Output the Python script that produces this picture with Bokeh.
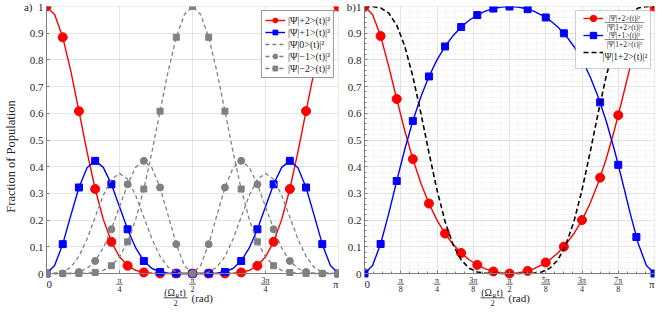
import numpy as np
from bokeh.plotting import figure
from bokeh.layouts import row
from bokeh.models import FixedTicker, Label, Legend, LegendItem, Range1d, BoxAnnotation
from bokeh.embed import file_html
from bokeh.resources import INLINE

# ---------------- data ----------------
X_DEG = [0, 5, 10, 15, 20, 25, 30, 35, 40, 45, 50, 55, 60, 65, 70, 75, 80, 85, 90,
         95, 100, 105, 110, 115, 120, 125, 130, 135, 140, 145, 150, 155, 160, 165, 170, 175, 180]

P_PLUS2 = [1.0, 0.9700, 0.8847, 0.7578, 0.6080, 0.4552, 0.3164, 0.2027, 0.1186, 0.0625, 0.0291,
           0.0117, 0.0039, 0.0010, 0.0002, 0.0, 0.0, 0.0, 0.0, 0.0, 0.0, 0.0, 0.0002, 0.0010,
           0.0039, 0.0117, 0.0291, 0.0625, 0.1186, 0.2027, 0.3164, 0.4552, 0.6080, 0.7578,
           0.8847, 0.9700, 1.0]
P_PLUS1 = [0.0, 0.0297, 0.1100, 0.2176, 0.3222, 0.3959, 0.4219, 0.3976, 0.3340, 0.2500, 0.1656,
           0.0956, 0.0469, 0.0187, 0.0057, 0.0011, 0.0001, 0.0, 0.0, 0.0, 0.0001, 0.0011, 0.0057,
           0.0187, 0.0469, 0.0956, 0.1656, 0.2500, 0.3340, 0.3976, 0.4219, 0.3959, 0.3222,
           0.2176, 0.1100, 0.0297, 0.0]
P_ZERO = [0.0, 0.0003, 0.0051, 0.0234, 0.0640, 0.1291, 0.2109, 0.2924, 0.3527, 0.3750, 0.3527,
          0.2924, 0.2109, 0.1291, 0.0640, 0.0234, 0.0051, 0.0003, 0.0, 0.0003, 0.0051, 0.0234,
          0.0640, 0.1291, 0.2109, 0.2924, 0.3527, 0.3750, 0.3527, 0.2924, 0.2109, 0.1291,
          0.0640, 0.0234, 0.0051, 0.0003, 0.0]
P_MINUS1 = [0.0, 0.0, 0.0001, 0.0011, 0.0057, 0.0187, 0.0469, 0.0956, 0.1656, 0.2500, 0.3340,
            0.3976, 0.4219, 0.3959, 0.3222, 0.2176, 0.1100, 0.0297, 0.0, 0.0297, 0.1100, 0.2176,
            0.3222, 0.3959, 0.4219, 0.3976, 0.3340, 0.2500, 0.1656, 0.0956, 0.0469, 0.0187,
            0.0057, 0.0011, 0.0001, 0.0, 0.0]
P_MINUS2 = [0.0, 0.0, 0.0, 0.0, 0.0002, 0.0010, 0.0039, 0.0117, 0.0291, 0.0625, 0.1186, 0.2027,
            0.3164, 0.4552, 0.6080, 0.7578, 0.8847, 0.9700, 1.0, 0.9700, 0.8847, 0.7578, 0.6080,
            0.4552, 0.3164, 0.2027, 0.1186, 0.0625, 0.0291, 0.0117, 0.0039, 0.0010, 0.0002,
            0.0, 0.0, 0.0, 0.0]

# panel b
R_PLUS2 = [1.0, 0.9703, 0.8894, 0.7769, 0.6536, 0.5348, 0.4286, 0.3377, 0.2620, 0.2000, 0.1497,
           0.1092, 0.0769, 0.0516, 0.0321, 0.0176, 0.0077, 0.0019, 0.0, 0.0019, 0.0077, 0.0176,
           0.0321, 0.0516, 0.0769, 0.1092, 0.1497, 0.2000, 0.2620, 0.3377, 0.4286, 0.5348,
           0.6536, 0.7769, 0.8894, 0.9703, 1.0]
R_PLUS1 = [0.0, 0.0297, 0.1106, 0.2231, 0.3464, 0.4652, 0.5714, 0.6623, 0.7380, 0.8000, 0.8503,
           0.8908, 0.9231, 0.9484, 0.9679, 0.9824, 0.9923, 0.9981, 1.0, 0.9981, 0.9923, 0.9824,
           0.9679, 0.9484, 0.9231, 0.8908, 0.8503, 0.8000, 0.7380, 0.6623, 0.5714, 0.4652,
           0.3464, 0.2231, 0.1106, 0.0297, 0.0]
R_SUB = [1.0, 0.9997, 0.9947, 0.9754, 0.9302, 0.8511, 0.7383, 0.6003, 0.4526, 0.3125, 0.1947,
         0.1073, 0.0508, 0.0197, 0.0059, 0.0011, 0.0001, 0.0, 0.0, 0.0, 0.0001, 0.0011, 0.0059,
         0.0197, 0.0508, 0.1073, 0.1947, 0.3125, 0.4526, 0.6003, 0.7383, 0.8511, 0.9302,
         0.9754, 0.9947, 0.9997, 1.0]
MARK_B_DEG = [0, 10, 20, 30, 40, 50, 60, 70, 80, 90, 101.25, 112.5, 123.75, 135, 146.25,
              157.5, 168.75, 180]
MARK_B_PLUS2 = [1.0, 0.8894, 0.6536, 0.4286, 0.2620, 0.1497, 0.0769, 0.0321, 0.0077, 0.0,
                0.0098, 0.0411, 0.1004, 0.2000, 0.3590, 0.5930, 0.8634, 1.0]
MARK_B_PLUS1 = [0.0, 0.1106, 0.3464, 0.5714, 0.7380, 0.8503, 0.9231, 0.9679, 0.9923, 1.0,
                0.9902, 0.9589, 0.8996, 0.8000, 0.6410, 0.4070, 0.1366, 0.0]

Y_TICKS = [0, 0.1, 0.2, 0.3, 0.4, 0.5, 0.6, 0.7, 0.8, 0.9, 1]
Y_LABELS_A = ["0", "0.1", "0.2", "0.3", "0.4", "0.5", "0.6", "0.7", "0.8", "0.9", "a)\u00a0\u00a01"]
Y_LABELS_B = ["0", "0.1", "0.2", "0.3", "0.4", "0.5", "0.6", "0.7", "0.8", "0.9", "b)1"]
XT_A_EIGHTHS = [0, 2, 4, 6, 8]
XT_A_NUM = ["0", "π", "π", "3π", "π"]
XT_A_DEN = ["", "4", "2", "4", ""]
XT_B_EIGHTHS = [0, 1, 2, 3, 4, 5, 6, 7, 8]
XT_B_NUM = ["0", "π", "π", "3π", "π", "5π", "3π", "7π", "π"]
XT_B_DEN = ["", "8", "4", "8", "2", "8", "4", "8", ""]

LEG_A = ["|Ψ|+2>(t)|²", "|Ψ|+1>(t)|²", "|Ψ|0>(t)|²", "|Ψ|−1>(t)|²", "|Ψ|−2>(t)|²"]
LEG_B_NUM = ["|Ψ|+2>(t)|²", "|Ψ|+1>(t)|²"]
LEG_B_DEN = "|Ψ|1+2>(t)|²"
LEG_B_SUB = "|Ψ|1+2>(t)|²"

# ---------------- style / layout ----------------
FONT = "Liberation Serif"
TXT = "#262626"
AXC = "#808080"
RED = "#ff0000"
BLUE = "#0000ff"
GRAY = "#808080"
FH_TOT = 300          # frame height incl. the strip under the x axis
BOT = 33              # px of that strip
PPU = FH_TOT - BOT    # px per y unit
YLO = -BOT / PPU
FW_A, LEFT_A = 292, 36
FW_B, LEFT_B = 290, 22

X = np.deg2rad(np.array(X_DEG, dtype=float))
XM = X[::2]


def lab(p, x, y, text, dx=0, dy=0, size="11px", align="center", color=TXT):
    p.add_layout(Label(x=x, y=y, x_offset=dx, y_offset=dy, text=text, text_align=align,
                       text_baseline="middle", text_font=FONT, text_font_size=size,
                       text_color=color))


def bar(p, x0, x1, yc, h=0.8):
    p.add_layout(BoxAnnotation(left=x0, right=x1, bottom=yc - h / 2 / PPU, top=yc + h / 2 / PPU,
                               fill_color=TXT, fill_alpha=1.0, line_color=None))


def base(fw, left, eighths, nums, dens, ylabels, minor=False):
    p = figure(frame_width=fw, frame_height=FH_TOT, x_range=Range1d(0, np.pi),
               y_range=Range1d(YLO, 1), min_border_left=left, min_border_right=4,
               min_border_top=6, min_border_bottom=0, output_backend="svg",
               toolbar_location=None)
    p.outline_line_color = None
    p.background_fill_color = "white"
    p.border_fill_color = "white"
    xt = [k * np.pi / 8 for k in eighths]
    if minor:
        p.xaxis.ticker = FixedTicker(ticks=xt, minor_ticks=[k * np.pi / 32 for k in range(33)])
        p.yaxis.ticker = FixedTicker(ticks=Y_TICKS, minor_ticks=[k * 0.02 for k in range(51)])
    else:
        p.xaxis.ticker = FixedTicker(ticks=xt)
        p.yaxis.ticker = FixedTicker(ticks=Y_TICKS)
    p.yaxis.major_label_overrides = dict(zip(Y_TICKS, ylabels))
    p.xaxis.major_label_overrides = {t: "" for t in xt}
    p.xaxis.fixed_location = 0
    p.yaxis.bounds = (0, 1)
    for ax in (p.xaxis[0], p.yaxis[0]):
        ax.axis_line_color = AXC
        ax.major_tick_line_color = AXC
        ax.major_tick_in = 3
        ax.major_tick_out = 0
        ax.minor_tick_line_color = AXC if minor else None
        ax.minor_tick_in = 2
        ax.minor_tick_out = 0
        ax.major_label_text_font = FONT
        ax.major_label_text_font_size = "11px"
        ax.major_label_text_color = TXT
        ax.major_label_standoff = 3
    p.xaxis.major_label_text_font_size = "1px"
    p.xaxis.major_label_standoff = 0
    for g in (p.xgrid[0], p.ygrid[0]):
        g.grid_line_color = "#e3e3e3"
        if minor:
            g.minor_grid_line_color = "#ececec"
            g.minor_grid_line_dash = "2 2"
    # white strip under the x axis (hides grid there) and the plot box
    p.add_layout(BoxAnnotation(top=0, fill_color="white", fill_alpha=1.0, line_color=None,
                               level="underlay"))
    p.add_layout(BoxAnnotation(left=0, right=np.pi, bottom=0, top=1, fill_alpha=0.0,
                               line_color=AXC, line_width=1, level="underlay"))
    # x tick labels, stacked fractions
    for t, n, d in zip(xt, nums, dens):
        if d == "":
            shift = 2.8 if t == 0 else -2.8
            lab(p, t, 0, n, dx=shift, dy=-10.5, size="11px")
        else:
            lab(p, t, 0, n, dy=-6.6, size="8px")
            hw = (4.6 if len(n) > 1 else 3.3) / fw * np.pi
            bar(p, t - hw, t + hw, -10.6 / PPU, h=0.7)
            lab(p, t, 0, d, dy=-15.2, size="8px")
    # x axis label: (Omega_R t)/2 (rad)
    xc = np.pi / 2
    lab(p, xc, 0, "(Ω", dx=-17.5, dy=-19, size="10px", align="right")
    lab(p, xc, 0, "R", dx=-17.3, dy=-21.5, size="6.5px", align="left")
    lab(p, xc, 0, "t)", dx=-12.8, dy=-19, size="10px", align="left")
    bar(p, xc - 29 / fw * np.pi, xc - 5 / fw * np.pi, -24.3 / PPU, h=0.8)
    lab(p, xc, 0, "2", dx=-17, dy=-29, size="8.5px")
    lab(p, xc, 0, "(rad)", dx=-1, dy=-24.8, size="11px", align="left")
    return p


# ---------------- panel a ----------------
pa = base(FW_A, LEFT_A, XT_A_EIGHTHS, XT_A_NUM, XT_A_DEN, Y_LABELS_A)
pa.yaxis.axis_label = "Fraction of Population"
pa.yaxis.axis_label_text_font = FONT
pa.yaxis.axis_label_text_font_size = "12.5px"
pa.yaxis.axis_label_text_font_style = "normal"
pa.yaxis.axis_label_text_color = TXT
pa.yaxis.axis_label_standoff = 3

r1 = pa.line(X, P_PLUS2, line_color=RED, line_width=1.4)
m1 = pa.scatter(XM, P_PLUS2[::2], marker="circle", size=9, fill_color=RED, line_color=RED)
r2 = pa.line(X, P_PLUS1, line_color=BLUE, line_width=1.4)
m2 = pa.scatter(XM, P_PLUS1[::2], marker="square", size=7, fill_color=BLUE, line_color=BLUE)
r3 = pa.line(X, P_ZERO, line_color=GRAY, line_width=1.3, line_dash="4 3")
r4 = pa.line(X, P_MINUS1, line_color=GRAY, line_width=1.3, line_dash="4 3")
m4 = pa.scatter(XM, P_MINUS1[::2], marker="circle", size=7, fill_color=GRAY, line_color=GRAY)
r5 = pa.line(X, P_MINUS2, line_color=GRAY, line_width=1.3, line_dash="4 3")
m5 = pa.scatter(XM, P_MINUS2[::2], marker="square", size=6, fill_color=GRAY, line_color=GRAY)

leg_a = Legend(items=[LegendItem(label=LEG_A[0], renderers=[r1, m1]),
                      LegendItem(label=LEG_A[1], renderers=[r2, m2]),
                      LegendItem(label=LEG_A[2], renderers=[r3]),
                      LegendItem(label=LEG_A[3], renderers=[r4, m4]),
                      LegendItem(label=LEG_A[4], renderers=[r5, m5])],
               location="top_right", margin=4, padding=3, spacing=0, glyph_width=20,
               glyph_height=12, label_height=12, label_standoff=3,
               label_text_font=FONT, label_text_font_size="10px",
               label_text_color=TXT, border_line_color="#333333", border_line_width=0.8,
               background_fill_alpha=1.0)
pa.add_layout(leg_a)

# ---------------- panel b ----------------
pb = base(FW_B, LEFT_B, XT_B_EIGHTHS, XT_B_NUM, XT_B_DEN, Y_LABELS_B, minor=True)
XB = np.deg2rad(np.array(MARK_B_DEG, dtype=float))
s1 = pb.line(X, R_PLUS2, line_color=RED, line_width=1.4)
n1 = pb.scatter(XB, MARK_B_PLUS2, marker="circle", size=9, fill_color=RED, line_color=RED)
s2 = pb.line(X, R_PLUS1, line_color=BLUE, line_width=1.4)
n2 = pb.scatter(XB, MARK_B_PLUS1, marker="square", size=7, fill_color=BLUE, line_color=BLUE)
s3 = pb.line(X, R_SUB, line_color="black", line_width=1.6, line_dash="5 3")

# legend b: white box + fraction texts, then the (transparent) legend glyphs on top
LW_B, GH_B, MARG, PAD = 44, 16, 4, 4
leg_w = 2 * PAD + 20 + 3 + LW_B
leg_h = 2 * PAD + 3 * GH_B + 2
pb.add_layout(BoxAnnotation(left=np.pi * (1 - (MARG + leg_w) / FW_B),
                            right=np.pi * (1 - MARG / FW_B),
                            top=1 - MARG / PPU, bottom=1 - (MARG + leg_h) / PPU,
                            fill_color="white", fill_alpha=1.0, line_color="#333333",
                            line_width=0.8))
txt_left = FW_B - MARG - leg_w + PAD + 20 + 3
txt_c = txt_left + LW_B / 2
for i, num in enumerate(LEG_B_NUM):
    cy = MARG + PAD + GH_B / 2 + i * (GH_B + 1)
    lab(pb, np.pi, 1, num, dx=txt_c - FW_B, dy=-cy + 4.4, size="7.5px")
    bar(pb, np.pi * (txt_c - 20) / FW_B, np.pi * (txt_c + 20) / FW_B, 1 - cy / PPU, h=0.7)
    lab(pb, np.pi, 1, LEG_B_DEN, dx=txt_c - FW_B, dy=-cy - 4.6, size="7.5px")
lab(pb, np.pi, 1, LEG_B_SUB, dx=txt_left - FW_B,
    dy=-(MARG + PAD + GH_B / 2 + 2 * (GH_B + 1)), size="9.5px", align="left")

leg_b = Legend(items=[LegendItem(label=" ", renderers=[s1, n1]),
                      LegendItem(label=" ", renderers=[s2, n2]),
                      LegendItem(label=" ", renderers=[s3])],
               location="top_right", margin=MARG, padding=PAD, spacing=1, glyph_width=20,
               glyph_height=GH_B, label_height=GH_B, label_width=LW_B, label_standoff=3,
               label_text_font=FONT, label_text_font_size="9px",
               border_line_color=None, background_fill_alpha=0.0)
pb.add_layout(leg_b)

layout = row(pa, pb)
open("out.html", "w").write(file_html(layout, INLINE))
